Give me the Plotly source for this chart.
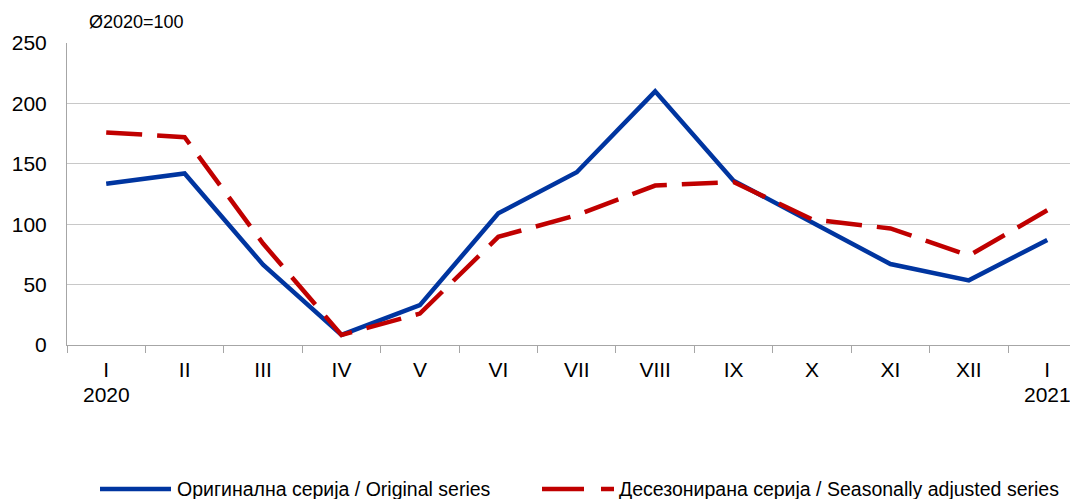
import plotly.graph_objects as go

categories = ["I 2020", "II", "III", "IV", "V", "VI", "VII", "VIII", "IX", "X", "XI", "XII", "I 2021"]
month_labels = ["I", "II", "III", "IV", "V", "VI", "VII", "VIII", "IX", "X", "XI", "XII", "I"]
year_labels = {"I 2020": "2020", "I 2021": "2021"}
original = [133.5, 142, 66.5, 8.3, 33, 109, 143, 210, 136, 102, 67, 53.5, 87]
seas_adj = [176, 172, 84, 8.3, 26, 89.5, 107.5, 132, 135, 104, 96.5, 74, 111.5]
y_ticks = [0, 50, 100, 150, 200, 250]
name_orig = "Оригинална серија / Original series"
name_sa = "Десезонирана серија / Seasonally adjusted series"

FONT = "Liberation Sans, Arial, sans-serif"
BLUE = "#0035A0"
RED = "#C00000"

OFF = 8  # page body margin
W, H = 1078 - OFF, 499 - OFF
ML = 67 - OFF
MT = 43 - OFF
PLOT_RIGHT = 1078 - OFF          # plot area runs to the window edge (last band clipped)
PLOT_BOTTOM = 345 - OFF
MR = W - PLOT_RIGHT
MB = H - PLOT_BOTTOM
PW = W - ML - MR
PH = H - MT - MB
BAND = 78.42                      # px per category in the reference
X_END = -0.5 + PW / BAND


def px_x(p):  # page pixel -> paper x
    return (p - OFF - ML) / PW


def px_y(p):  # page pixel -> paper y
    return (PLOT_BOTTOM - (p - OFF)) / PH


fig = go.Figure()
fig.add_trace(go.Scatter(
    x=categories, y=original, mode="lines", name=name_orig,
    line=dict(color=BLUE, width=4.5), showlegend=False,
))
fig.add_trace(go.Scatter(
    x=categories, y=seas_adj, mode="lines", name=name_sa,
    line=dict(color=RED, width=4.5, dash="36px,15px"), showlegend=False,
))

ly = px_y(489)
shapes = [
    dict(type="line", xref="paper", yref="paper", x0=px_x(100), x1=px_x(171), y0=ly, y1=ly,
         line=dict(color=BLUE, width=4.5)),
    dict(type="line", xref="paper", yref="paper", x0=px_x(542), x1=px_x(614), y0=ly, y1=ly,
         line=dict(color=RED, width=4.5, dash="42px,17px")),
]
annotations = [
    dict(text="Ø2020=100", xref="paper", yref="paper",
         x=px_x(87), y=px_y(22), xanchor="left", yanchor="middle",
         showarrow=False, font=dict(family=FONT, size=18, color="#000000")),
    dict(text=name_orig, xref="paper", yref="paper",
         x=px_x(175), y=ly, xanchor="left", yanchor="middle",
         showarrow=False, font=dict(family=FONT, size=19.5, color="#000000")),
    dict(text=name_sa, xref="paper", yref="paper",
         x=px_x(617), y=ly, xanchor="left", yanchor="middle",
         showarrow=False, font=dict(family=FONT, size=19.5, color="#000000")),
]
for cat, yr in year_labels.items():
    annotations.append(dict(
        text=yr, xref="x", yref="paper", x=cat, y=px_y(394),
        xanchor="center", yanchor="middle", showarrow=False,
        font=dict(family=FONT, size=21, color="#000000"),
    ))

fig.update_layout(
    width=W, height=H,
    margin=dict(l=ML, r=MR, t=MT, b=MB, autoexpand=False),
    paper_bgcolor="white", plot_bgcolor="white",
    font=dict(family=FONT, size=21, color="#000000"),
    showlegend=False,
    xaxis=dict(
        type="category", showgrid=False, automargin=False,
        categoryorder="array", categoryarray=categories,
        tickmode="array", tickvals=categories, ticktext=month_labels,
        showline=True, linecolor="#A6A6A6", linewidth=1,
        ticks="outside", tickson="boundaries", ticklen=7, tickcolor="#A6A6A6",
        ticklabelstandoff=6,
        tickfont=dict(family=FONT, size=21, color="#000000"),
        range=[-0.5, X_END],
    ),
    yaxis=dict(
        range=[0, 250], tickvals=y_ticks, automargin=False,
        showgrid=True, gridcolor="#C8C8C8", gridwidth=1,
        showline=True, linecolor="#A6A6A6", linewidth=1,
        ticks="", ticklabelstandoff=15, zeroline=False,
        tickfont=dict(family=FONT, size=21, color="#000000"),
    ),
    shapes=shapes,
    annotations=annotations,
)

fig.write_html("out.html")
